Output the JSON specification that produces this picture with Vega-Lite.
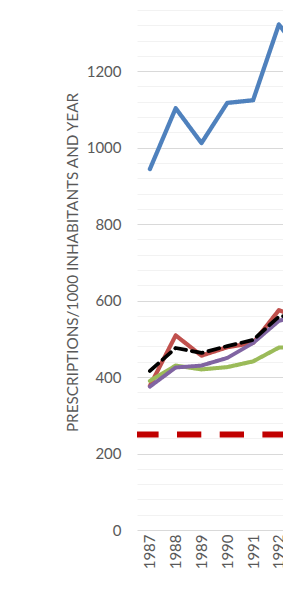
{
  "$schema": "https://vega.github.io/schema/vega-lite/v6.json",
  "width": 146,
  "height": 520,
  "autosize": "none",
  "padding": {"left": 137, "top": 10, "right": 0, "bottom": 62},
  "background": "white",
  "config": {"view": {"stroke": null}, "font": "Lato"},
  "datasets": {
    "series": [
      {"year": 1987, "series": "S1", "value": 944},
      {"year": 1988, "series": "S1", "value": 1103},
      {"year": 1989, "series": "S1", "value": 1012},
      {"year": 1990, "series": "S1", "value": 1117},
      {"year": 1991, "series": "S1", "value": 1124},
      {"year": 1992, "series": "S1", "value": 1322},
      {"year": 1993, "series": "S1", "value": 1235},
      {"year": 1987, "series": "S2", "value": 377},
      {"year": 1988, "series": "S2", "value": 509},
      {"year": 1989, "series": "S2", "value": 456},
      {"year": 1990, "series": "S2", "value": 478},
      {"year": 1991, "series": "S2", "value": 489},
      {"year": 1992, "series": "S2", "value": 575},
      {"year": 1993, "series": "S2", "value": 550},
      {"year": 1987, "series": "S3", "value": 390},
      {"year": 1988, "series": "S3", "value": 430},
      {"year": 1989, "series": "S3", "value": 420},
      {"year": 1990, "series": "S3", "value": 426},
      {"year": 1991, "series": "S3", "value": 441},
      {"year": 1992, "series": "S3", "value": 477},
      {"year": 1993, "series": "S3", "value": 478},
      {"year": 1987, "series": "S4", "value": 375},
      {"year": 1988, "series": "S4", "value": 425},
      {"year": 1989, "series": "S4", "value": 430},
      {"year": 1990, "series": "S4", "value": 450},
      {"year": 1991, "series": "S4", "value": 489},
      {"year": 1992, "series": "S4", "value": 547},
      {"year": 1993, "series": "S4", "value": 565},
      {"year": 1987, "series": "S5", "value": 416},
      {"year": 1988, "series": "S5", "value": 476},
      {"year": 1989, "series": "S5", "value": 463},
      {"year": 1990, "series": "S5", "value": 481},
      {"year": 1991, "series": "S5", "value": 497},
      {"year": 1992, "series": "S5", "value": 558},
      {"year": 1993, "series": "S5", "value": 565}
    ],
    "reference": [{"level": 250}]
  },
  "resolve": {"axis": {"y": "independent"}},
  "layer": [
    {
      "data": {"name": "reference"},
      "mark": {"type": "rule", "color": "#C00000", "strokeWidth": 6, "strokeDash": [24.3, 18.4], "strokeDashOffset": 3.7, "strokeCap": "butt"},
      "encoding": {
        "y": {
          "field": "level", "type": "quantitative",
          "scale": {"domain": [0, 1360], "nice": false, "zero": true},
          "axis": {
            "orient": "left",
            "values": [40,80,120,160,240,280,320,360,440,480,520,560,640,680,720,760,840,880,920,960,1040,1080,1120,1160,1240,1280,1320,1360],
            "labels": false,
            "ticks": false,
            "domain": false,
            "grid": true,
            "gridColor": "#f2f2f2",
            "gridWidth": 1,
            "title": null
          }
        }
      }
    },
    {
      "data": {"name": "series"},
      "mark": {"type": "line", "clip": true, "strokeJoin": "round", "strokeCap": "round"},
      "encoding": {
        "x": {
          "field": "year", "type": "quantitative",
          "scale": {"domain": [1986.5, 1992.16], "nice": false, "zero": false},
          "axis": {
            "values": [1987, 1988, 1989, 1990, 1991, 1992],
            "format": "d",
            "labelAngle": 270,
            "labelFont": "Lato",
            "labelFontSize": 15,
            "labelColor": "#595959",
            "labelPadding": 4,
            "ticks": false,
            "domain": false,
            "grid": false,
            "title": null,
            "labelOverlap": false,
            "labelBound": false,
            "labelFlush": false
          }
        },
        "y": {
          "field": "value", "type": "quantitative",
          "scale": {"domain": [0, 1360], "nice": false, "zero": true},
          "axis": {
            "orient": "left",
            "values": [0, 200, 400, 600, 800, 1000, 1200],
            "format": "d",
            "grid": true,
            "gridColor": "#d9d9d9",
            "gridWidth": 1,
            "ticks": false,
            "domain": false,
            "labelOverlap": false,
            "labelFont": "Lato",
            "labelFontSize": 15,
            "labelColor": "#595959",
            "labelPadding": 16,
            "title": "PRESCRIPTIONS/1000 INHABITANTS AND YEAR",
            "titleFont": "Lato",
            "titleFontSize": 15.3,
            "titleFontWeight": "normal",
            "titleColor": "#595959",
            "titlePadding": 6,
            "titleY": 252
          }
        },
        "color": {
          "field": "series", "type": "nominal",
          "scale": {"domain": ["S1", "S2", "S3", "S4", "S5"], "range": ["#4F81BD", "#C0504D", "#9BBB59", "#8064A2", "#000000"]},
          "legend": null
        },
        "strokeWidth": {
          "field": "series", "type": "nominal",
          "scale": {"domain": ["S1", "S2", "S3", "S4", "S5"], "range": [4.3, 3.8, 3.8, 3.8, 5]},
          "legend": null
        },
        "strokeDash": {
          "field": "series", "type": "nominal",
          "scale": {"domain": ["S1", "S2", "S3", "S4", "S5"], "range": [[1, 0], [1, 0], [1, 0], [1, 0], [11, 6]]},
          "legend": null
        }
      }
    }
  ]
}
